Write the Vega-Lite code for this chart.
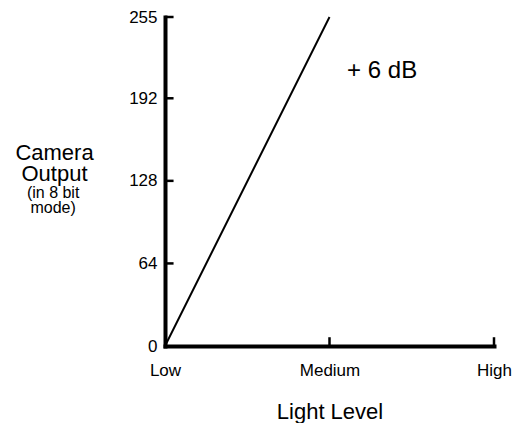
{
  "$schema": "https://vega.github.io/schema/vega-lite/v6.json",
  "width": 329,
  "height": 329,
  "autosize": {"type": "none"},
  "padding": {"left": 165, "top": 17, "right": 26, "bottom": 77},
  "background": "white",
  "config": {
    "view": {"stroke": null},
    "font": "Liberation Sans",
    "text": {"font": "Liberation Sans"}
  },
  "layer": [
    {
      "data": {"values": [
        {"level": 0, "output": 0},
        {"level": 1, "output": 255}
      ]},
      "mark": {"type": "line", "color": "black", "strokeWidth": 2, "clip": false},
      "encoding": {
        "x": {
          "field": "level", "type": "quantitative",
          "scale": {"domain": [0, 2], "nice": false, "zero": false},
          "axis": {
            "values": [0, 1, 2],
            "labelExpr": "datum.value == 0 ? 'Low' : datum.value == 1 ? 'Medium' : 'High'",
            "grid": false, "ticks": false,
            "domainWidth": 4, "domainColor": "black", "domainCap": "square",
            "labelFontSize": 17, "labelColor": "black", "labelPadding": 16,
            "labelFont": "Liberation Sans", "labelFlush": false,
            "title": "Light Level", "titleFontSize": 22, "titleFontWeight": "normal",
            "titleColor": "black", "titleFont": "Liberation Sans",
            "titleBaseline": "alphabetic", "titleX": 164.5, "titleY": 72, "titleAlign": "center"
          }
        },
        "y": {
          "field": "output", "type": "quantitative",
          "scale": {"domain": [0, 255], "nice": false},
          "axis": {
            "values": [0, 64, 128, 192, 255],
            "grid": false, "ticks": false,
            "domainWidth": 4, "domainColor": "black", "domainCap": "square",
            "labelFontSize": 17, "labelColor": "black", "labelPadding": 8,
            "labelFont": "Liberation Sans", "labelFlush": false,
            "title": ["Camera", "Output"], "titleFontSize": 22, "titleFontWeight": "normal",
            "titleColor": "black", "titleFont": "Liberation Sans", "titleAngle": 0,
            "titleAlign": "center", "titleBaseline": "alphabetic", "titleLineHeight": 21,
            "titleX": -111, "titleY": 142
          }
        }
      }
    },
    {
      "data": {"values": [
        {"xa": 0, "xb": 0.052, "ya": 64, "yb": 64},
        {"xa": 0, "xb": 0.052, "ya": 128, "yb": 128},
        {"xa": 0, "xb": 0.052, "ya": 192, "yb": 192},
        {"xa": 0, "xb": 0.052, "ya": 255, "yb": 255},
        {"xa": 1, "xb": 1, "ya": 0, "yb": 6.8},
        {"xa": 2, "xb": 2, "ya": 0, "yb": 6.8}
      ]},
      "mark": {"type": "rule", "color": "black", "strokeWidth": 2.5, "clip": false},
      "encoding": {
        "x": {"field": "xa", "type": "quantitative"},
        "x2": {"field": "xb"},
        "y": {"field": "ya", "type": "quantitative"},
        "y2": {"field": "yb"}
      }
    },
    {
      "data": {"values": [{"label": "+ 6 dB"}]},
      "mark": {"type": "text", "fontSize": 24, "color": "black", "align": "center", "baseline": "middle", "clip": false},
      "encoding": {
        "x": {"datum": 1.32, "type": "quantitative"},
        "y": {"datum": 213, "type": "quantitative"},
        "text": {"field": "label"}
      }
    },
    {
      "data": {"values": [{"label": "(in 8 bit\nmode)"}]},
      "mark": {"type": "text", "fontSize": 16, "color": "black", "align": "center", "baseline": "alphabetic", "lineBreak": "\n", "lineHeight": 15, "clip": false},
      "encoding": {
        "x": {"datum": -0.68, "type": "quantitative"},
        "y": {"datum": 115, "type": "quantitative"},
        "text": {"field": "label"}
      }
    }
  ]
}
